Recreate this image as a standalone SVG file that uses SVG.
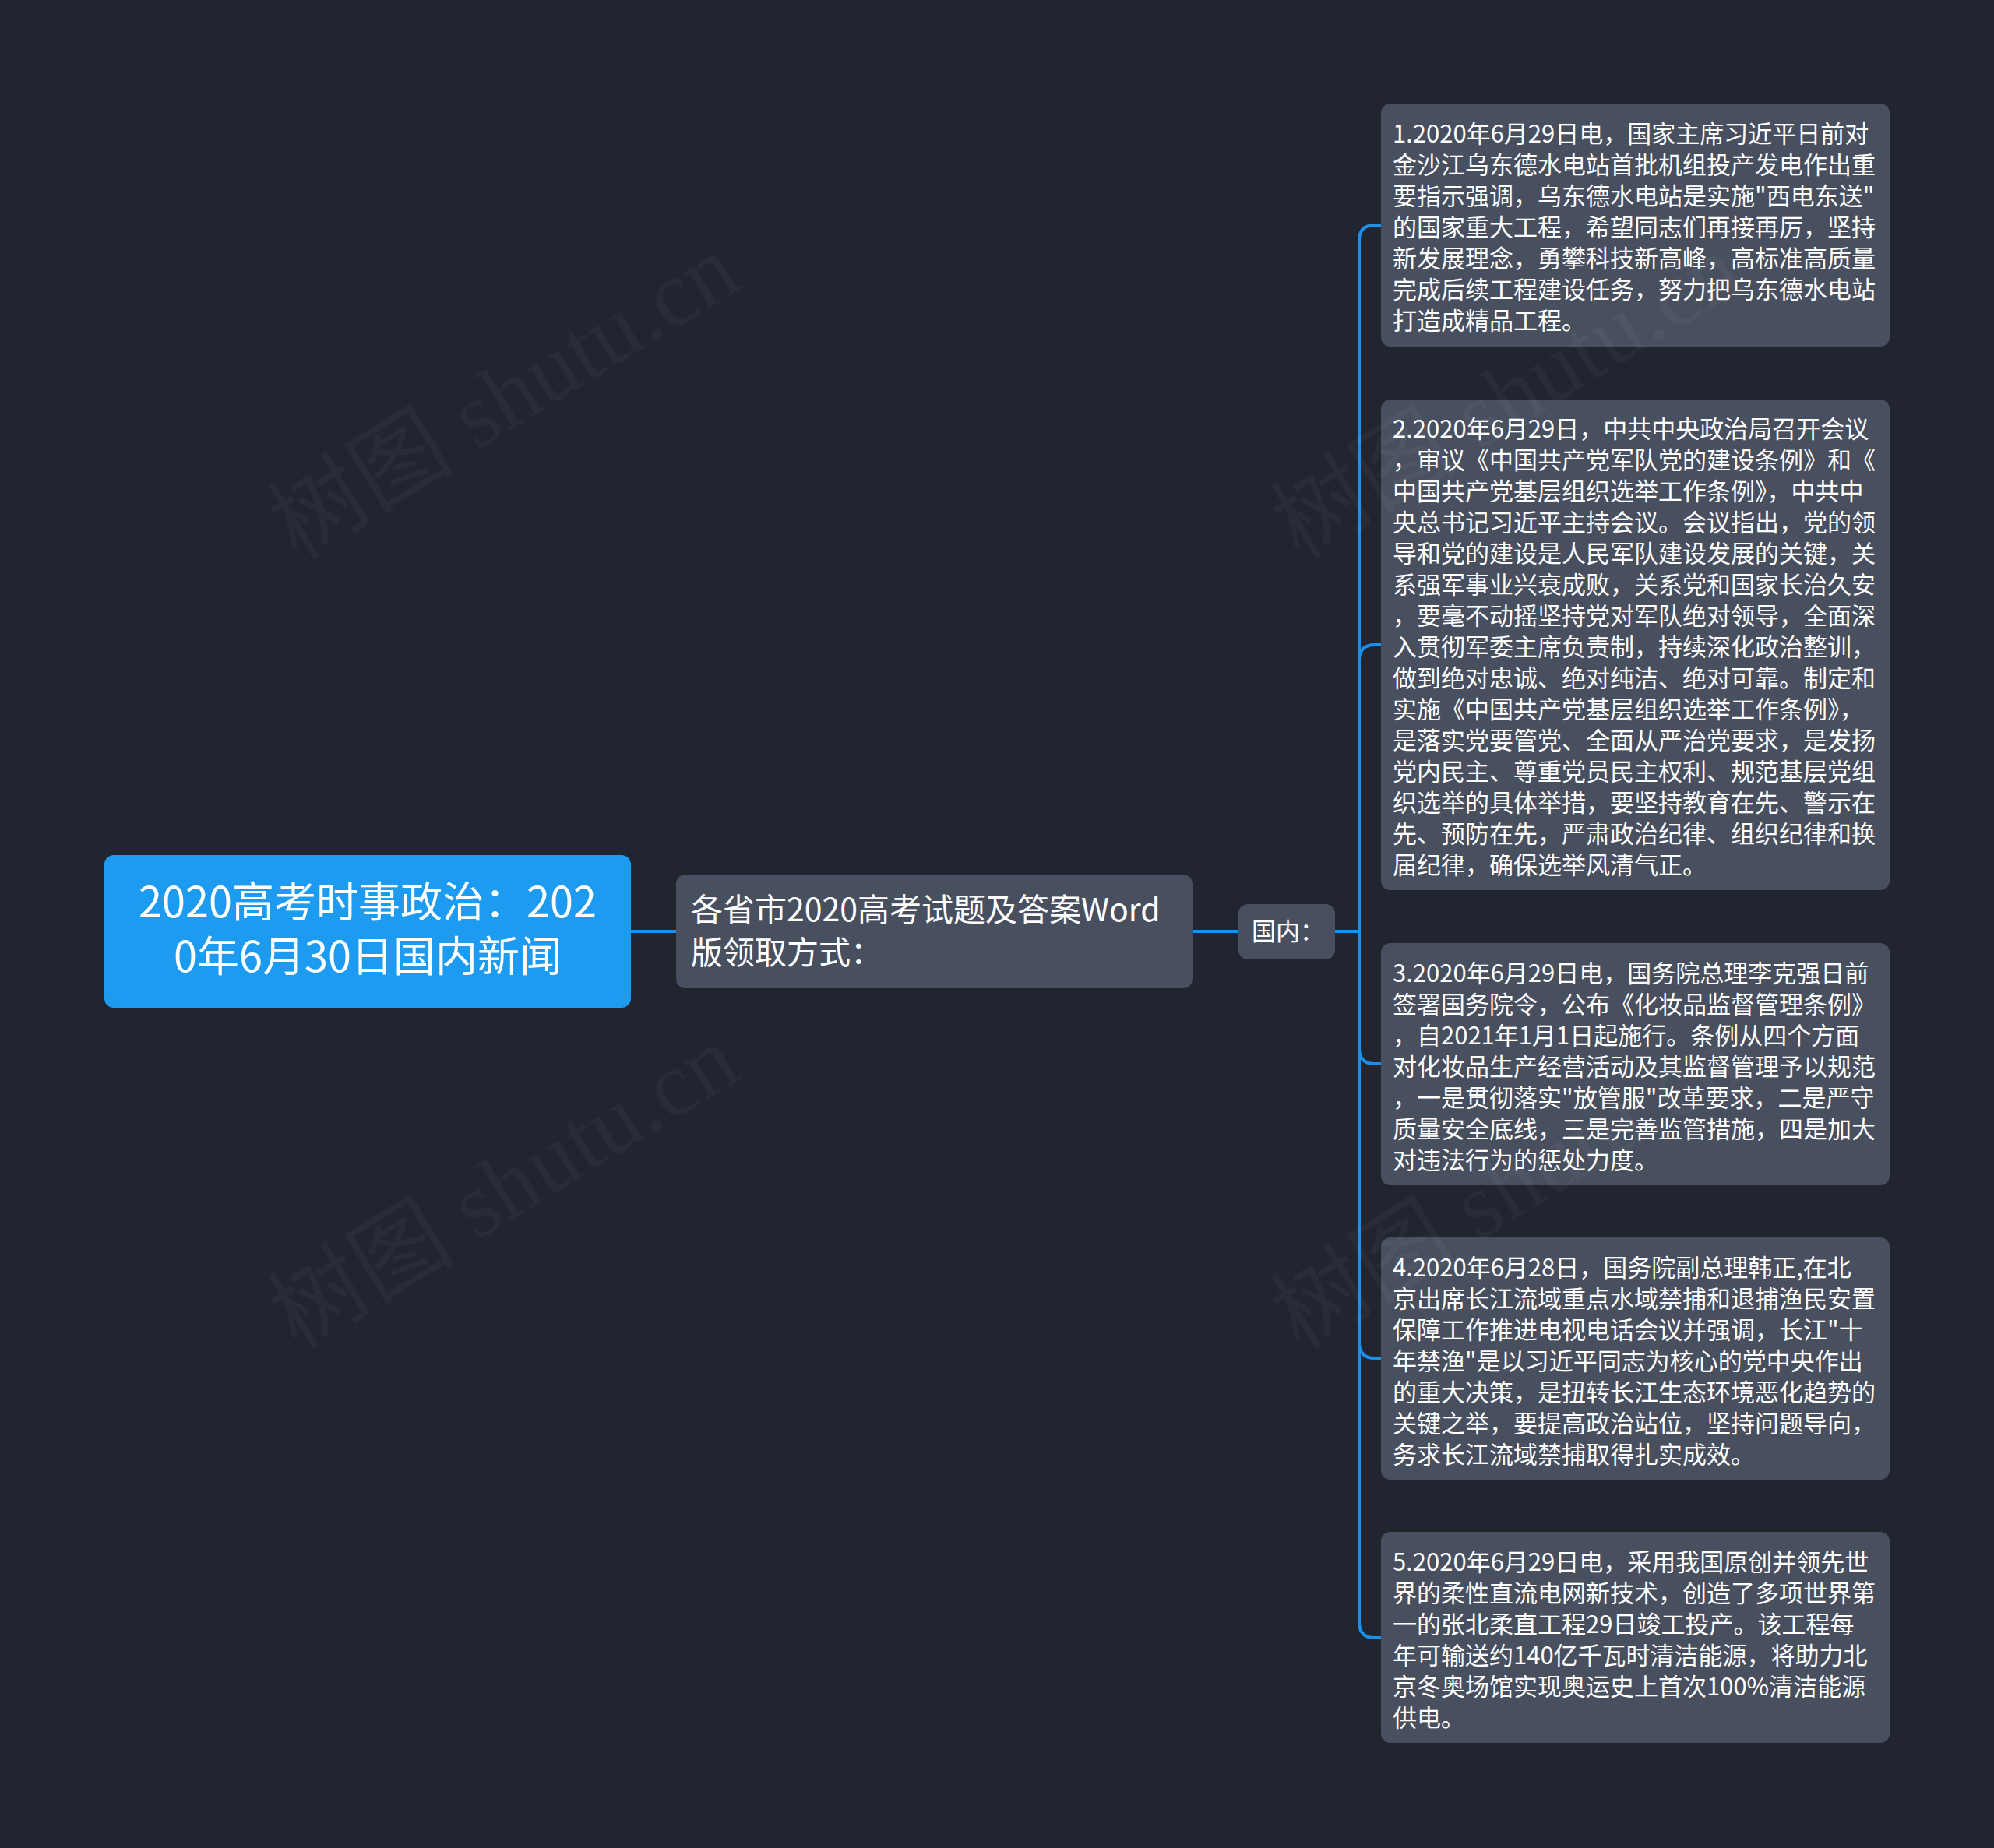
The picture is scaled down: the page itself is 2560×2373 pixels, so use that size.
<svg xmlns="http://www.w3.org/2000/svg" width="2560" height="2373" viewBox="0 0 2560 2373">
<defs>
<style>
.bg{fill:#212530}
.root{fill:#1c9bf0}
.box{fill:#484f5f}
.t{font-family:"Noto Sans CJK SC","Noto Sans",sans-serif;fill:#ffffff}
.leaf{font-size:31px}
.conn{fill:none;stroke:#1c8fe8;stroke-width:4}
.wm{font-family:"Liberation Serif","Noto Sans CJK SC",serif;font-size:120px;fill:#ffffff;fill-opacity:0.035}
</style>
</defs>
<rect class="bg" x="0" y="0" width="2560" height="2373"/>
<g id="connectors">
<path class="conn" d="M810 1196 H868"/>
<path class="conn" d="M1531 1196 H1590"/>
<path class="conn" d="M1714 1196 H1745 V309 Q1745 289 1765 289 H1773"/>
<path class="conn" d="M1714 1196 H1745 V848 Q1745 828 1765 828 H1773"/>
<path class="conn" d="M1714 1196 H1745 V1346 Q1745 1366 1765 1366 H1773"/>
<path class="conn" d="M1714 1196 H1745 V1724 Q1745 1744 1765 1744 H1773"/>
<path class="conn" d="M1714 1196 H1745 V2083 Q1745 2103 1765 2103 H1773"/>
</g>
<g id="root">
<rect class="root" x="134" y="1098" width="676" height="196" rx="12"/>
<text class="t" font-size="54" text-anchor="middle"><tspan x="472" y="1178">2020高考时事政治：202</tspan><tspan x="472" y="1248">0年6月30日国内新闻</tspan></text>
</g>
<g id="node-word">
<rect class="box" x="868" y="1123" width="663" height="146" rx="12"/>
<text class="t" font-size="41"><tspan x="887" y="1183">各省市2020高考试题及答案Word</tspan><tspan x="887" y="1238">版领取方式：</tspan></text>
</g>
<g id="node-guonei">
<rect class="box" x="1590" y="1161" width="124" height="71" rx="12"/>
<text class="t" font-size="31" x="1607" y="1207">国内：</text>
</g>
<g id="leaf1">
<rect class="box" x="1773" y="133" width="653" height="312" rx="12"/>
<text class="t leaf"><tspan x="1788" y="183">1.2020年6月29日电，国家主席习近平日前对</tspan><tspan x="1788" y="223">金沙江乌东德水电站首批机组投产发电作出重</tspan><tspan x="1788" y="263">要指示强调，乌东德水电站是实施"西电东送"</tspan><tspan x="1788" y="303">的国家重大工程，希望同志们再接再厉，坚持</tspan><tspan x="1788" y="343">新发展理念，勇攀科技新高峰，高标准高质量</tspan><tspan x="1788" y="383">完成后续工程建设任务，努力把乌东德水电站</tspan><tspan x="1788" y="423">打造成精品工程。</tspan></text>
</g>
<g id="leaf2">
<rect class="box" x="1773" y="513" width="653" height="630" rx="12"/>
<text class="t leaf"><tspan x="1788" y="562">2.2020年6月29日，中共中央政治局召开会议</tspan><tspan x="1788" y="602">，审议《中国共产党军队党的建设条例》和《</tspan><tspan x="1788" y="642">中国共产党基层组织选举工作条例》，中共中</tspan><tspan x="1788" y="682">央总书记习近平主持会议。会议指出，党的领</tspan><tspan x="1788" y="722">导和党的建设是人民军队建设发展的关键，关</tspan><tspan x="1788" y="762">系强军事业兴衰成败，关系党和国家长治久安</tspan><tspan x="1788" y="802">，要毫不动摇坚持党对军队绝对领导，全面深</tspan><tspan x="1788" y="842">入贯彻军委主席负责制，持续深化政治整训，</tspan><tspan x="1788" y="882">做到绝对忠诚、绝对纯洁、绝对可靠。制定和</tspan><tspan x="1788" y="922">实施《中国共产党基层组织选举工作条例》，</tspan><tspan x="1788" y="962">是落实党要管党、全面从严治党要求，是发扬</tspan><tspan x="1788" y="1002">党内民主、尊重党员民主权利、规范基层党组</tspan><tspan x="1788" y="1042">织选举的具体举措，要坚持教育在先、警示在</tspan><tspan x="1788" y="1082">先、预防在先，严肃政治纪律、组织纪律和换</tspan><tspan x="1788" y="1122">届纪律，确保选举风清气正。</tspan></text>
</g>
<g id="leaf3">
<rect class="box" x="1773" y="1211" width="653" height="311" rx="12"/>
<text class="t leaf"><tspan x="1788" y="1261">3.2020年6月29日电，国务院总理李克强日前</tspan><tspan x="1788" y="1301">签署国务院令，公布《化妆品监督管理条例》</tspan><tspan x="1788" y="1341">，自2021年1月1日起施行。条例从四个方面</tspan><tspan x="1788" y="1381">对化妆品生产经营活动及其监督管理予以规范</tspan><tspan x="1788" y="1421">，一是贯彻落实"放管服"改革要求，二是严守</tspan><tspan x="1788" y="1461">质量安全底线，三是完善监管措施，四是加大</tspan><tspan x="1788" y="1501">对违法行为的惩处力度。</tspan></text>
</g>
<g id="leaf4">
<rect class="box" x="1773" y="1589" width="653" height="311" rx="12"/>
<text class="t leaf"><tspan x="1788" y="1639">4.2020年6月28日，国务院副总理韩正,在北</tspan><tspan x="1788" y="1679">京出席长江流域重点水域禁捕和退捕渔民安置</tspan><tspan x="1788" y="1719">保障工作推进电视电话会议并强调，长江"十</tspan><tspan x="1788" y="1759">年禁渔"是以习近平同志为核心的党中央作出</tspan><tspan x="1788" y="1799">的重大决策，是扭转长江生态环境恶化趋势的</tspan><tspan x="1788" y="1839">关键之举，要提高政治站位，坚持问题导向，</tspan><tspan x="1788" y="1879">务求长江流域禁捕取得扎实成效。</tspan></text>
</g>
<g id="leaf5">
<rect class="box" x="1773" y="1967" width="653" height="271" rx="12"/>
<text class="t leaf"><tspan x="1788" y="2017">5.2020年6月29日电，采用我国原创并领先世</tspan><tspan x="1788" y="2057">界的柔性直流电网新技术，创造了多项世界第</tspan><tspan x="1788" y="2097">一的张北柔直工程29日竣工投产。该工程每</tspan><tspan x="1788" y="2137">年可输送约140亿千瓦时清洁能源，将助力北</tspan><tspan x="1788" y="2177">京冬奥场馆实现奥运史上首次100%清洁能源</tspan><tspan x="1788" y="2217">供电。</tspan></text>
</g>
<g id="watermarks">
<text class="wm" transform="translate(381 720) rotate(-31.5)">树图 shutu.cn</text>
<text class="wm" transform="translate(381 1735) rotate(-31.5)">树图 shutu.cn</text>
<text class="wm" transform="translate(1668 720) rotate(-31.5)">树图 shutu.cn</text>
<text class="wm" transform="translate(1668 1735) rotate(-31.5)">树图 shutu.cn</text>
</g>
</svg>
